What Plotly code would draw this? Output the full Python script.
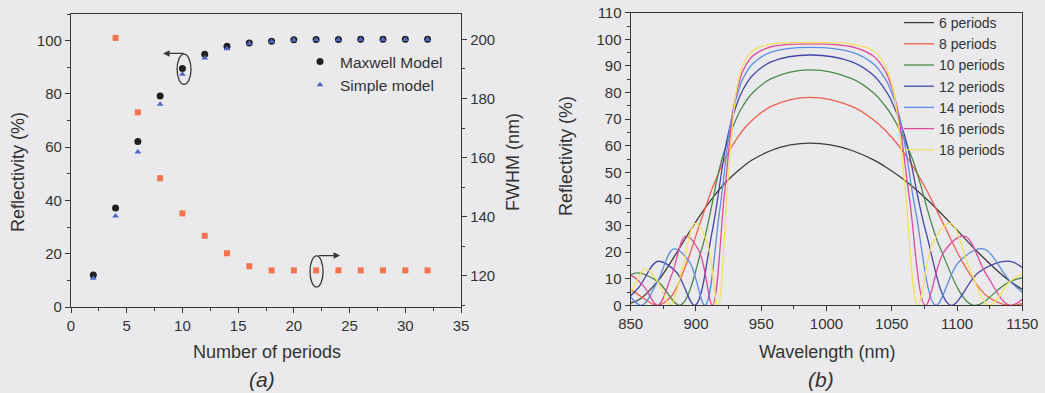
import plotly.graph_objects as go

W, H = 1045, 393
BG = "#eaeaed"
AX = "#383838"
TXT = "#333333"
FONT = "Arial, Liberation Sans, sans-serif"

# ---------------- panel (a) data ----------------
periods = [2, 4, 6, 8, 10, 12, 14, 16, 18, 20, 22, 24, 26, 28, 30, 32]
maxwell_R = [12.0, 37.2, 62.1, 79.2, 89.5, 94.9, 97.9, 99.1, 99.8, 100.3, 100.4, 100.4, 100.5, 100.5, 100.5, 100.5]
simple_R = [10.8, 34.2, 58.2, 76.1, 87.4, 93.5, 97.0, 98.9, 99.7, 100.2, 100.3, 100.3, 100.4, 100.4, 100.4, 100.4]
fwhm_periods = [4, 6, 8, 10, 12, 14, 16, 18, 20, 22, 24, 26, 28, 30, 32]
fwhm_nm = [200.5, 175.3, 153.0, 141.1, 133.5, 127.6, 123.2, 121.8, 121.8, 121.8, 121.8, 121.8, 121.8, 121.8, 121.8]

# ---------------- panel (b) data ----------------
wl_6 = [842.2, 856.3, 870.6, 884.9, 899.1, 912.6, 924.5, 936.4, 943.3, 957.6, 972.3, 987.5,
        1003.2, 1019.4, 1036.1, 1044.4, 1059.7, 1075.8, 1095.2, 1116.9, 1140.7, 1166.2, 1193.4]
r_6 = [0.0, 2.1, 9.0, 19.5, 30.8, 40.3, 47.1, 52.3, 54.7, 58.2, 60.3, 61.0,
       60.3, 58.2, 54.7, 52.3, 47.1, 40.3, 30.8, 19.5, 9.0, 2.1, 0.0]

wl_8 = [828.5, 849.2, 870.6, 881.4, 892.1, 902.6, 912.6, 921.7, 929.4, 936.4, 943.3, 957.6, 987.5,
        1019.4, 1036.1, 1044.4, 1053.4, 1063.3, 1075.8, 1090.1, 1105.8, 1122.7, 1140.7, 1179.5]
r_8 = [8.1, 5.9, 0.0, 3.6, 14.9, 30.1, 44.1, 54.5, 61.2, 66.1, 69.7, 74.8, 78.2,
       74.8, 69.7, 66.1, 61.2, 54.5, 44.1, 30.1, 14.9, 3.6, 0.0, 5.9]

wl_10 = [836.7, 853.5, 870.6, 887.8, 904.6, 920.0, 931.8, 936.4, 943.3, 957.6, 987.5,
         1019.4, 1036.1, 1044.4, 1050.3, 1065.7, 1087.1, 1112.4, 1140.7, 1171.5]
r_10 = [4.8, 12.1, 9.0, 0.0, 21.5, 55.2, 71.2, 75.3, 79.8, 85.2, 88.5,
        85.2, 79.8, 75.3, 71.2, 55.2, 21.5, 0.0, 9.0, 12.1]

wl_12 = [842.2, 856.3, 870.6, 884.9, 899.1, 912.6, 924.5, 933.1, 936.4, 943.3, 957.6, 987.5,
         1019.4, 1036.1, 1044.4, 1048.6, 1059.7, 1075.8, 1095.2, 1116.9, 1140.7, 1166.2]
r_12 = [0.0, 6.8, 16.5, 12.5, 0.0, 28.3, 64.0, 78.0, 81.4, 86.4, 91.5, 94.1,
        91.5, 86.4, 81.4, 78.0, 64.0, 28.3, 0.0, 12.5, 16.5, 6.8]

wl_14 = [846.2, 858.3, 870.6, 882.9, 895.1, 906.9, 918.0, 927.4, 934.0, 936.4, 943.3, 957.6, 987.5,
         1019.4, 1036.1, 1044.4, 1047.5, 1056.0, 1068.4, 1083.8, 1101.2, 1120.2, 1140.7, 1162.4]
r_14 = [5.6, 0.0, 9.0, 21.2, 16.2, 0.0, 35.0, 70.8, 82.9, 85.6, 90.7, 95.2, 97.0,
        95.2, 90.7, 85.6, 82.9, 70.8, 35.0, 0.0, 16.2, 21.2, 9.0, 0.0]

wl_16 = [838.7, 849.2, 859.9, 870.6, 881.4, 892.1, 902.6, 912.6, 921.7, 929.4, 934.5, 936.4, 943.3, 957.6, 987.5,
         1019.4, 1036.1, 1044.4, 1046.8, 1053.4, 1063.3, 1075.8, 1090.1, 1105.8, 1122.7, 1140.7, 1159.6]
r_16 = [5.0, 11.2, 7.2, 0.0, 11.4, 26.0, 20.2, 0.0, 41.2, 76.0, 86.3, 88.6, 93.6, 97.2, 98.3,
        97.2, 93.6, 88.6, 86.3, 76.0, 41.2, 0.0, 20.2, 26.0, 11.4, 0.0, 7.2]

wl_18 = [842.2, 851.6, 861.0, 870.6, 880.2, 889.7, 899.1, 908.2, 916.8, 924.5, 930.7, 934.9, 936.4, 943.3, 957.6, 987.5,
         1019.4, 1036.1, 1044.4, 1046.3, 1051.6, 1059.7, 1070.0, 1082.0, 1095.2, 1109.4, 1124.6, 1140.7, 1157.5]
r_18 = [0.0, 6.2, 13.8, 9.0, 0.0, 14.0, 30.8, 24.2, 0.0, 47.1, 80.0, 88.9, 90.8, 95.6, 98.2, 98.7,
        98.2, 95.6, 90.8, 88.9, 80.0, 47.1, 0.0, 24.2, 30.8, 14.0, 0.0, 9.0, 13.8]

series_names = ["6 periods", "8 periods", "10 periods", "12 periods", "14 periods", "16 periods", "18 periods"]
series_wl = [wl_6, wl_8, wl_10, wl_12, wl_14, wl_16, wl_18]
series_r = [r_6, r_8, r_10, r_12, r_14, r_16, r_18]
series_colors = ["#3c3c3c", "#f0604a", "#4a8a4a", "#4646a8", "#5c8ce4", "#e04a9c", "#f2e25a"]

fig = go.Figure()

# panel (a)
fig.add_trace(go.Scatter(x=periods, y=maxwell_R, mode="markers", name="Maxwell Model",
                         marker=dict(symbol="circle", size=7, color="#202020"),
                         xaxis="x", yaxis="y", legend="legend"))
fig.add_trace(go.Scatter(x=periods, y=simple_R, mode="markers", name="Simple model",
                         marker=dict(symbol="triangle-up", size=6, color="#5464c4"),
                         xaxis="x", yaxis="y", legend="legend"))
fig.add_trace(go.Scatter(x=fwhm_periods, y=fwhm_nm, mode="markers", name="FWHM",
                         marker=dict(symbol="square", size=6, color="#f2744e"),
                         xaxis="x", yaxis="y2", showlegend=False))

# panel (b)
for nm, xs, ys, col in zip(series_names, series_wl, series_r, series_colors):
    fig.add_trace(go.Scatter(x=xs, y=ys, mode="lines", name=nm,
                             line=dict(color=col, width=1.3, shape="spline", smoothing=1.0),
                             xaxis="x2", yaxis="y3", legend="legend2"))

def px_x(p):
    return p / W

def px_y(p):
    return 1 - p / H

axis_common = dict(showline=True, linecolor=AX, linewidth=1.3, ticks="outside", ticklen=5,
                   tickwidth=1.2, tickcolor=AX, showgrid=False, zeroline=False,
                   tickfont=dict(family=FONT, size=15, color=TXT))

fig.update_layout(
    width=W, height=H, margin=dict(l=0, r=0, t=0, b=0, autoexpand=False),
    paper_bgcolor=BG, plot_bgcolor=BG,
    font=dict(family=FONT, color=TXT),
    xaxis=dict(domain=[px_x(71), px_x(461)], range=[0, 35], dtick=5, tick0=0, anchor="y",
               mirror=True, minor=dict(dtick=2.5, ticklen=3, ticks="outside", tickcolor=AX),
               **axis_common),
    yaxis=dict(domain=[px_y(307), px_y(14)], range=[0, 110], dtick=20, tick0=0, anchor="x",
               minor=dict(dtick=10, ticklen=3, ticks="outside", tickcolor=AX), **axis_common),
    yaxis2=dict(range=[109.4, 208.6], dtick=20, tick0=0, overlaying="y", side="right", anchor="x",
                minor=dict(dtick=10, ticklen=3, ticks="outside", tickcolor=AX), **axis_common),
    xaxis2=dict(domain=[px_x(630.7), px_x(1022.3)], range=[850, 1150], dtick=50, tick0=850, anchor="y3",
                mirror=True, minor=dict(dtick=25, ticklen=3, ticks="outside", tickcolor=AX),
                **axis_common),
    yaxis3=dict(domain=[px_y(305.3), px_y(12.7)], range=[0, 110], dtick=10, tick0=0, anchor="x2",
                mirror=True, minor=dict(dtick=5, ticklen=3, ticks="outside", tickcolor=AX),
                **axis_common),
    legend=dict(x=px_x(300), y=px_y(45), xanchor="left", yanchor="top", bgcolor="rgba(0,0,0,0)",
                font=dict(family=FONT, size=15.5, color=TXT), tracegroupgap=0,
                entrywidth=110, entrywidthmode="pixels"),
    legend2=dict(x=px_x(899), y=px_y(7), xanchor="left", yanchor="top", bgcolor="rgba(0,0,0,0)",
                 font=dict(family=FONT, size=14, color=TXT), tracegroupgap=0,
                 entrywidth=78, entrywidthmode="pixels"),
)

# ellipses and arrows (panel a)
fig.add_shape(type="circle", xref="x", yref="y", x0=9.52, x1=10.77, y0=83.6, y1=94.9,
              line=dict(color=AX, width=1.3))
fig.add_shape(type="circle", xref="x", yref="y2", x0=21.45, x1=22.62, y0=116.2, y1=126.7,
              line=dict(color=AX, width=1.3))
fig.add_annotation(x=8.26, y=95.2, xref="x", yref="y", ax=22, ay=0, text="", showarrow=True,
                   arrowhead=2, arrowsize=1, arrowwidth=1.3, arrowcolor=AX)
fig.add_annotation(x=24.15, y=126.8, xref="x", yref="y2", ax=-23, ay=0, text="", showarrow=True,
                   arrowhead=2, arrowsize=1, arrowwidth=1.3, arrowcolor=AX)

def label(text, x, y, size=18, angle=0, italic=False):
    fig.add_annotation(x=px_x(x), y=px_y(y), xref="paper", yref="paper", text=text, showarrow=False,
                       textangle=angle, xanchor="center", yanchor="middle",
                       font=dict(family=FONT, size=size, color=TXT,
                                 style="italic" if italic else "normal"))

label("Number of periods", 267, 352)
label("(a)", 262, 379, size=21, italic=True)
label("Reflectivity (%)", 18, 172, angle=-90)
label("FWHM (nm)", 513, 162, angle=-90)
label("Wavelength (nm)", 827, 352)
label("(b)", 821, 379, size=21, italic=True)
label("Reflectivity (%)", 566, 156, angle=-90)

fig.write_html("out.html")
